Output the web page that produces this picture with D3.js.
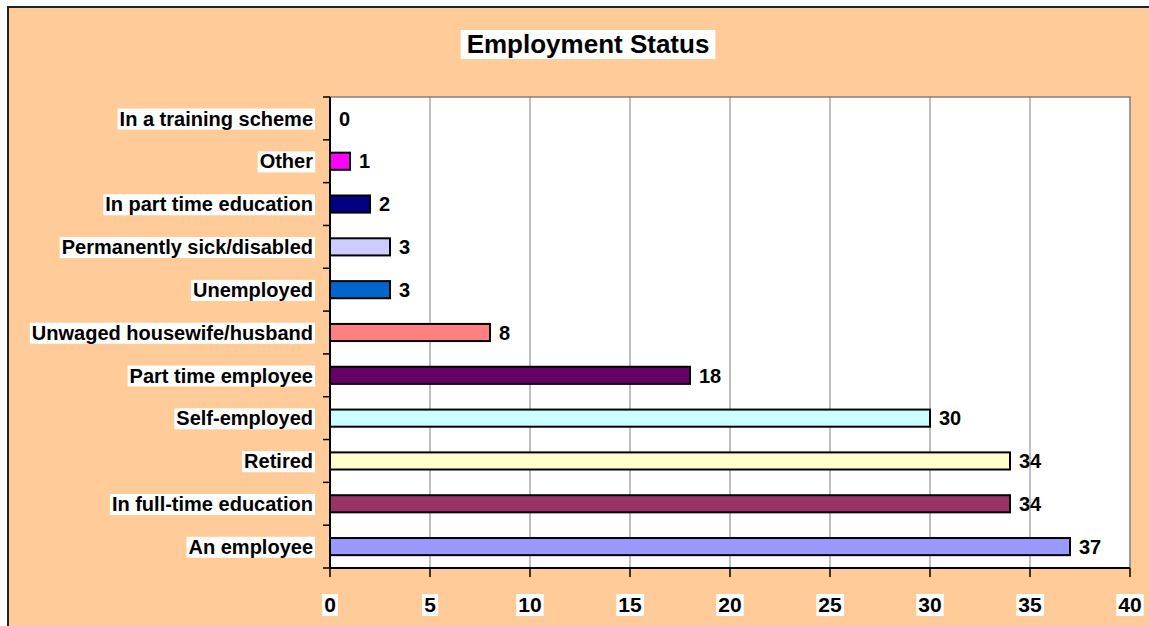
<!DOCTYPE html>
<html>
<head>
<meta charset="utf-8">
<script src="https://cdn.jsdelivr.net/npm/d3@7"></script>
<style>
  html, body { margin: 0; padding: 0; background: #fff; }
  svg text { font-family: Arial, "Liberation Sans", sans-serif; font-weight: bold; fill: #000; }
</style>
</head>
<body>
<svg id="chart" width="1149" height="626"></svg>
<script>
// data, top to bottom as shown
var categories = ["In a training scheme", "Other", "In part time education", "Permanently sick/disabled",
    "Unemployed", "Unwaged housewife/husband", "Part time employee", "Self-employed",
    "Retired", "In full-time education", "An employee"];
var counts = [0, 1, 2, 3, 3, 8, 18, 30, 34, 34, 37];
var barColors = ["#FFFFFF", "#FF00FF", "#000080", "#CCCCFF", "#0066CC", "#FF8080",
    "#660066", "#CCFFFF", "#FFFFCC", "#993366", "#9999FF"];
var xTicks = [0, 5, 10, 15, 20, 25, 30, 35, 40];
var title = "Employment Status";

var svg = d3.select("#chart");
var plot = {left: 330, right: 1130, top: 97, bottom: 568};

var rows = categories.map(function(c, i) {
    return {name: c, value: counts[i], color: barColors[i]};
});

// outer chart area
svg.append("rect")
    .attr("x", 8).attr("y", 7)
    .attr("width", 1170).attr("height", 650)
    .attr("fill", "#FFCC99")
    .attr("stroke", "#222").attr("stroke-width", 2);

var x = d3.scaleLinear().domain([0, 40]).range([plot.left, plot.right]);
var y = d3.scaleBand().domain(categories).range([plot.top, plot.bottom])
    .paddingInner(0.6).paddingOuter(0.3);

// plot area
svg.append("rect")
    .attr("x", plot.left).attr("y", plot.top)
    .attr("width", plot.right - plot.left).attr("height", plot.bottom - plot.top)
    .attr("fill", "#fff")
    .attr("stroke", "#808080").attr("stroke-width", 1.5);

// gridlines
svg.append("g").selectAll("line")
    .data(xTicks.slice(1, -1))
    .join("line")
    .attr("x1", function(d) { return x(d); }).attr("x2", function(d) { return x(d); })
    .attr("y1", plot.top).attr("y2", plot.bottom)
    .attr("stroke", "#808080").attr("stroke-width", 1);

// put a white box behind a text node
function whiteBox(sel, pad) {
    sel.each(function() {
        var node = this;
        var b = node.getBBox();
        d3.select(node.parentNode).insert("rect", function() { return node; })
            .attr("x", b.x - pad).attr("y", b.y + 1)
            .attr("width", b.width + pad * 2).attr("height", b.height - 1)
            .attr("fill", "#fff");
    });
}

// bars
svg.append("g").selectAll("rect")
    .data(rows.filter(function(d) { return d.value > 0; }))
    .join("rect")
    .attr("x", x(0))
    .attr("y", function(d) { return y(d.name); })
    .attr("width", function(d) { return x(d.value) - x(0); })
    .attr("height", y.bandwidth())
    .attr("fill", function(d) { return d.color; })
    .attr("stroke", "#000").attr("stroke-width", 2);

// value labels
svg.append("g").selectAll("text")
    .data(rows)
    .join("text")
    .attr("x", function(d) { return x(d.value) + 9; })
    .attr("y", function(d) { return y(d.name) + y.bandwidth() / 2; })
    .attr("dy", "0.36em")
    .attr("font-size", 20)
    .text(function(d) { return d.value; });

// y axis line and ticks at band boundaries
var yAxis = svg.append("g");
yAxis.append("line")
    .attr("x1", plot.left).attr("x2", plot.left)
    .attr("y1", plot.top).attr("y2", plot.bottom)
    .attr("stroke", "#000").attr("stroke-width", 2);
yAxis.selectAll("line.tick")
    .data(d3.range(categories.length + 1))
    .join("line").attr("class", "tick")
    .attr("x1", plot.left - 7).attr("x2", plot.left)
    .attr("y1", function(i) { return plot.top + i * y.step(); })
    .attr("y2", function(i) { return plot.top + i * y.step(); })
    .attr("stroke", "#000").attr("stroke-width", 1.5);

var catLabels = svg.append("g").selectAll("g")
    .data(categories)
    .join("g");
catLabels.append("text")
    .attr("x", plot.left - 17)
    .attr("y", function(d) { return y(d) + y.bandwidth() / 2; })
    .attr("dy", "0.36em")
    .attr("text-anchor", "end")
    .attr("font-size", 20)
    .text(function(d) { return d; });
whiteBox(catLabels.selectAll("text"), 2);

// x axis
var xAxis = svg.append("g");
xAxis.append("line")
    .attr("x1", plot.left).attr("x2", plot.right)
    .attr("y1", plot.bottom).attr("y2", plot.bottom)
    .attr("stroke", "#000").attr("stroke-width", 2);
var xt = xAxis.selectAll("g.tick")
    .data(xTicks)
    .join("g").attr("class", "tick");
xt.append("line")
    .attr("x1", function(d) { return x(d); }).attr("x2", function(d) { return x(d); })
    .attr("y1", plot.bottom).attr("y2", plot.bottom + 9)
    .attr("stroke", "#000").attr("stroke-width", 1.5);
xt.append("text")
    .attr("x", function(d) { return x(d); })
    .attr("y", 612)
    .attr("text-anchor", "middle")
    .attr("font-size", 21)
    .text(function(d) { return d; });
whiteBox(xt.selectAll("text"), 2);

// title
var tg = svg.append("g");
tg.append("text")
    .attr("x", 588).attr("y", 53)
    .attr("text-anchor", "middle")
    .attr("font-size", 26)
    .text(title);
whiteBox(tg.selectAll("text"), 6);
</script>
</body>
</html>
